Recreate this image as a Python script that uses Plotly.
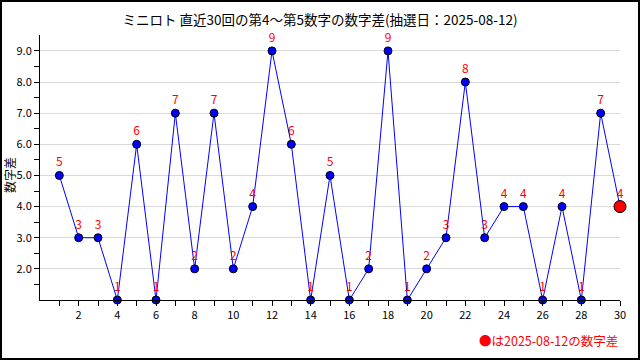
import plotly.graph_objects as go

draws = list(range(1, 31))
diffs = [5, 3, 3, 1, 6, 1, 7, 2, 7, 2, 4, 9, 6, 1, 5, 1, 2, 9, 1, 2, 3, 8, 3, 4, 4, 1, 4, 1, 7, 4]
title_text = "ミニロト 直近30回の第4～第5数字の数字差(抽選日：2025-08-12)"
legend_text = "●は2025-08-12の数字差"
y_title = "数字差"
font_family = "Noto Sans CJK JP, DejaVu Sans, sans-serif"

fig = go.Figure()
fig.add_trace(go.Scatter(
    x=draws, y=diffs, mode="lines+markers+text",
    line=dict(color="#0000ff", width=1),
    marker=dict(color="#0000ff", size=8, line=dict(color="black", width=1)),
    text=[str(v) for v in diffs], textposition="top center",
    textfont=dict(color="#ff0000", size=12, family=font_family),
    cliponaxis=False, showlegend=False, hoverinfo="skip",
))
fig.add_trace(go.Scatter(
    x=[draws[-1]], y=[diffs[-1]], mode="markers",
    marker=dict(color="#ff0000", size=12, line=dict(color="black", width=1)),
    cliponaxis=False, showlegend=False, hoverinfo="skip",
))

fig.update_layout(
    width=640, height=360,
    margin=dict(l=40, r=20, t=35, b=60),
    paper_bgcolor="white", plot_bgcolor="white",
    font=dict(family=font_family, size=12, color="black"),
    title=dict(text=title_text, x=0.5, xanchor="center", y=0.943, yanchor="middle",
               font=dict(size=13.5, family=font_family, color="black")),
    xaxis=dict(range=[0, 30], tickmode="array", tickvals=list(range(2, 31, 2)),
               ticks="outside", ticklen=5, tickcolor="black", showgrid=False,
               showline=True, linecolor="black", linewidth=1, zeroline=False,
               minor=dict(tickmode="array", tickvals=list(range(1, 30, 2)), ticks="outside",
                          ticklen=5, tickcolor="black", showgrid=False),
               tickfont=dict(size=11)),
    yaxis=dict(range=[1, 9.51], tickmode="array", tickvals=list(range(2, 10)),
               ticktext=[f"{v:.1f}" for v in range(2, 10)],
               ticks="outside", ticklen=5, tickcolor="black",
               showgrid=True, gridcolor="#d9d9d9", gridwidth=1,
               showline=True, linecolor="black", linewidth=1, zeroline=False,
               minor=dict(tickmode="array", tickvals=[x + 0.5 for x in range(1, 9)], ticks="outside",
                          ticklen=5, tickcolor="black", showgrid=False),
               tickfont=dict(size=11)),
    shapes=[dict(type="rect", xref="paper", yref="paper", x0=-39/580, x1=599/580,
                 y0=-59/265, y1=299/265, line=dict(color="black", width=2))],
    annotations=[
        dict(text=y_title, textangle=-90, xref="paper", yref="paper",
             x=-31/580, y=(300-175)/265, xanchor="center", yanchor="middle",
             showarrow=False, font=dict(size=12, color="black")),
        dict(text=legend_text, xref="paper", yref="paper", x=1, y=-(340-300)/265,
             xanchor="right", yanchor="middle", showarrow=False,
             font=dict(size=12.5, color="#ff0000")),
    ],
)
fig.write_html("out.html", config={"displayModeBar": False, "staticPlot": True},
               post_script="document.body.style.margin='0';document.body.style.overflow='hidden';")
